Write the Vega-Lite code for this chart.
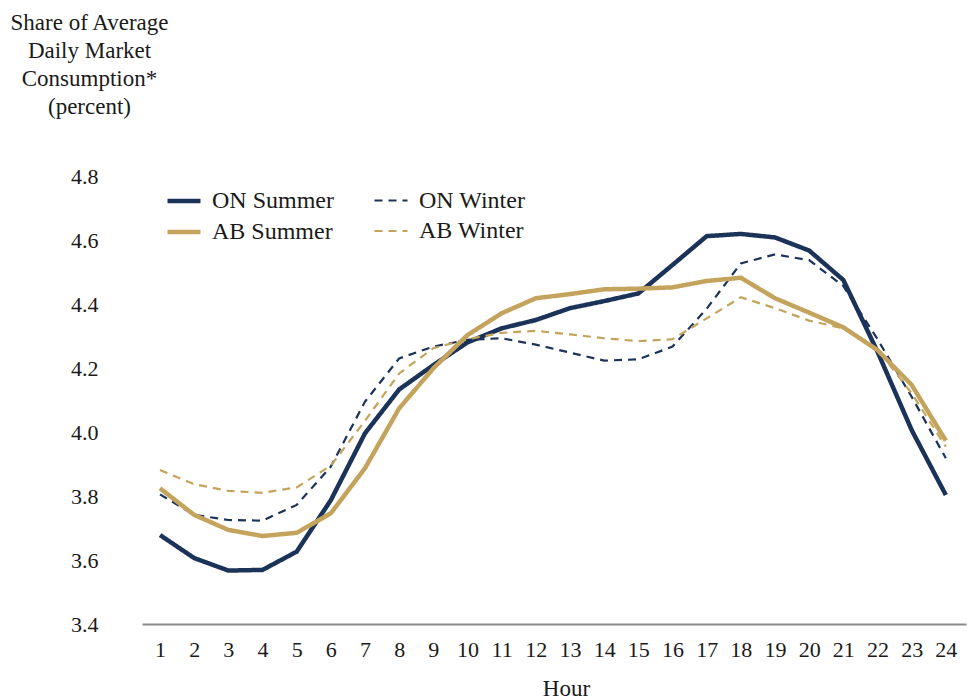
{
  "$schema": "https://vega.github.io/schema/vega-lite/v6.json",
  "width": 824,
  "height": 448,
  "autosize": {"type": "none"},
  "padding": {"left": 142, "top": 176, "right": 1, "bottom": 76},
  "background": "white",
  "config": {
    "view": {"stroke": null},
    "font": "Liberation Serif",
    "axis": {"labelFont": "Liberation Serif", "titleFont": "Liberation Serif", "labelColor": "#1a1a1a", "titleColor": "#1a1a1a", "titleFontWeight": "normal", "grid": false, "ticks": false},
    "legend": {"labelFont": "Liberation Serif", "labelColor": "#1a1a1a"}
  },
  "data": {"values": [
    {"hour": 1, "series": "ON Summer", "v": 3.678}, {"hour": 2, "series": "ON Summer", "v": 3.606}, {"hour": 3, "series": "ON Summer", "v": 3.567}, {"hour": 4, "series": "ON Summer", "v": 3.569}, {"hour": 5, "series": "ON Summer", "v": 3.626}, {"hour": 6, "series": "ON Summer", "v": 3.787}, {"hour": 7, "series": "ON Summer", "v": 3.996}, {"hour": 8, "series": "ON Summer", "v": 4.133}, {"hour": 9, "series": "ON Summer", "v": 4.209}, {"hour": 10, "series": "ON Summer", "v": 4.28}, {"hour": 11, "series": "ON Summer", "v": 4.324}, {"hour": 12, "series": "ON Summer", "v": 4.35}, {"hour": 13, "series": "ON Summer", "v": 4.387}, {"hour": 14, "series": "ON Summer", "v": 4.409}, {"hour": 15, "series": "ON Summer", "v": 4.433}, {"hour": 16, "series": "ON Summer", "v": 4.522}, {"hour": 17, "series": "ON Summer", "v": 4.612}, {"hour": 18, "series": "ON Summer", "v": 4.619}, {"hour": 19, "series": "ON Summer", "v": 4.608}, {"hour": 20, "series": "ON Summer", "v": 4.567}, {"hour": 21, "series": "ON Summer", "v": 4.475}, {"hour": 22, "series": "ON Summer", "v": 4.251}, {"hour": 23, "series": "ON Summer", "v": 4.006}, {"hour": 24, "series": "ON Summer", "v": 3.803},
    {"hour": 1, "series": "ON Winter", "v": 3.805}, {"hour": 2, "series": "ON Winter", "v": 3.741}, {"hour": 3, "series": "ON Winter", "v": 3.725}, {"hour": 4, "series": "ON Winter", "v": 3.723}, {"hour": 5, "series": "ON Winter", "v": 3.772}, {"hour": 6, "series": "ON Winter", "v": 3.892}, {"hour": 7, "series": "ON Winter", "v": 4.095}, {"hour": 8, "series": "ON Winter", "v": 4.23}, {"hour": 9, "series": "ON Winter", "v": 4.267}, {"hour": 10, "series": "ON Winter", "v": 4.288}, {"hour": 11, "series": "ON Winter", "v": 4.293}, {"hour": 12, "series": "ON Winter", "v": 4.273}, {"hour": 13, "series": "ON Winter", "v": 4.248}, {"hour": 14, "series": "ON Winter", "v": 4.223}, {"hour": 15, "series": "ON Winter", "v": 4.227}, {"hour": 16, "series": "ON Winter", "v": 4.267}, {"hour": 17, "series": "ON Winter", "v": 4.385}, {"hour": 18, "series": "ON Winter", "v": 4.527}, {"hour": 19, "series": "ON Winter", "v": 4.555}, {"hour": 20, "series": "ON Winter", "v": 4.537}, {"hour": 21, "series": "ON Winter", "v": 4.456}, {"hour": 22, "series": "ON Winter", "v": 4.29}, {"hour": 23, "series": "ON Winter", "v": 4.11}, {"hour": 24, "series": "ON Winter", "v": 3.918},
    {"hour": 1, "series": "AB Summer", "v": 3.824}, {"hour": 2, "series": "AB Summer", "v": 3.741}, {"hour": 3, "series": "AB Summer", "v": 3.694}, {"hour": 4, "series": "AB Summer", "v": 3.675}, {"hour": 5, "series": "AB Summer", "v": 3.685}, {"hour": 6, "series": "AB Summer", "v": 3.746}, {"hour": 7, "series": "AB Summer", "v": 3.887}, {"hour": 8, "series": "AB Summer", "v": 4.074}, {"hour": 9, "series": "AB Summer", "v": 4.199}, {"hour": 10, "series": "AB Summer", "v": 4.303}, {"hour": 11, "series": "AB Summer", "v": 4.371}, {"hour": 12, "series": "AB Summer", "v": 4.418}, {"hour": 13, "series": "AB Summer", "v": 4.431}, {"hour": 14, "series": "AB Summer", "v": 4.446}, {"hour": 15, "series": "AB Summer", "v": 4.448}, {"hour": 16, "series": "AB Summer", "v": 4.452}, {"hour": 17, "series": "AB Summer", "v": 4.472}, {"hour": 18, "series": "AB Summer", "v": 4.482}, {"hour": 19, "series": "AB Summer", "v": 4.418}, {"hour": 20, "series": "AB Summer", "v": 4.373}, {"hour": 21, "series": "AB Summer", "v": 4.327}, {"hour": 22, "series": "AB Summer", "v": 4.256}, {"hour": 23, "series": "AB Summer", "v": 4.147}, {"hour": 24, "series": "AB Summer", "v": 3.973},
    {"hour": 1, "series": "AB Winter", "v": 3.881}, {"hour": 2, "series": "AB Winter", "v": 3.837}, {"hour": 3, "series": "AB Winter", "v": 3.816}, {"hour": 4, "series": "AB Winter", "v": 3.81}, {"hour": 5, "series": "AB Winter", "v": 3.827}, {"hour": 6, "series": "AB Winter", "v": 3.895}, {"hour": 7, "series": "AB Winter", "v": 4.035}, {"hour": 8, "series": "AB Winter", "v": 4.183}, {"hour": 9, "series": "AB Winter", "v": 4.262}, {"hour": 10, "series": "AB Winter", "v": 4.29}, {"hour": 11, "series": "AB Winter", "v": 4.31}, {"hour": 12, "series": "AB Winter", "v": 4.316}, {"hour": 13, "series": "AB Winter", "v": 4.305}, {"hour": 14, "series": "AB Winter", "v": 4.293}, {"hour": 15, "series": "AB Winter", "v": 4.284}, {"hour": 16, "series": "AB Winter", "v": 4.29}, {"hour": 17, "series": "AB Winter", "v": 4.355}, {"hour": 18, "series": "AB Winter", "v": 4.421}, {"hour": 19, "series": "AB Winter", "v": 4.387}, {"hour": 20, "series": "AB Winter", "v": 4.348}, {"hour": 21, "series": "AB Winter", "v": 4.324}, {"hour": 22, "series": "AB Winter", "v": 4.258}, {"hour": 23, "series": "AB Winter", "v": 4.121}, {"hour": 24, "series": "AB Winter", "v": 3.954}
  ]},
  "mark": {"type": "line", "strokeJoin": "miter", "strokeCap": "butt"},
  "encoding": {
    "x": {
      "field": "hour", "type": "quantitative",
      "scale": {"domain": [0.473, 24.59], "nice": false, "zero": false},
      "axis": {"values": [1,2,3,4,5,6,7,8,9,10,11,12,13,14,15,16,17,18,19,20,21,22,23,24], "format": "d", "title": "Hour", "labelFont": "Liberation Serif", "titleFont": "Liberation Serif", "labelFontSize": 22, "titleFontSize": 23, "labelPadding": 15, "labelFlush": false, "domainColor": "#8a8a8a", "domainWidth": 2, "titleX": 424, "titleY": 64, "titleBaseline": "middle", "titleAnchor": null, "titleAlign": "center"}
    },
    "y": {
      "field": "v", "type": "quantitative",
      "scale": {"domain": [3.4, 4.8], "nice": false, "zero": false},
      "axis": {"values": [3.4,3.6,3.8,4.0,4.2,4.4,4.6,4.8], "format": ".1f", "domain": false, "labelFont": "Liberation Serif", "titleFont": "Liberation Serif", "labelFontSize": 22, "labelPadding": 44, "title": ["Share of Average", "Daily Market", "Consumption*", "(percent)"], "titleFontSize": 23, "titleAngle": 0, "titleAlign": "center", "titleBaseline": "alphabetic", "titleX": -53, "titleY": -147, "titleLineHeight": 28, "titleAnchor": null}
    },
    "color": {
      "field": "series", "type": "nominal",
      "scale": {"domain": ["ON Summer", "ON Winter", "AB Summer", "AB Winter"], "range": ["#1c3359", "#1c3359", "#c4a45d", "#c4a45d"]},
      "legend": {"title": null, "orient": "none", "legendX": 23, "legendY": 6, "columns": 2, "direction": "horizontal", "symbolType": "stroke", "symbolSize": 1089, "labelFont": "Liberation Serif", "labelFontSize": 24, "labelOffset": 9, "columnPadding": 36, "rowPadding": 0, "padding": 0}
    },
    "strokeDash": {
      "field": "series", "type": "nominal",
      "scale": {"domain": ["ON Summer", "ON Winter", "AB Summer", "AB Winter"], "range": [[1, 0], [8, 6], [1, 0], [8, 6]]},
      "legend": {"title": null, "orient": "none", "legendX": 23, "legendY": 6, "columns": 2, "direction": "horizontal", "symbolType": "stroke", "symbolSize": 1089, "labelFont": "Liberation Serif", "labelFontSize": 24, "labelOffset": 9, "columnPadding": 36, "rowPadding": 0, "padding": 0}
    },
    "strokeWidth": {
      "field": "series", "type": "nominal",
      "scale": {"type": "ordinal", "domain": ["ON Summer", "ON Winter", "AB Summer", "AB Winter"], "range": [4.5, 2.2, 4.5, 2.2]},
      "legend": {"title": null, "orient": "none", "legendX": 23, "legendY": 6, "columns": 2, "direction": "horizontal", "symbolType": "stroke", "symbolSize": 1089, "labelFont": "Liberation Serif", "labelFontSize": 24, "labelOffset": 9, "columnPadding": 36, "rowPadding": 0, "padding": 0}
    }
  }
}
